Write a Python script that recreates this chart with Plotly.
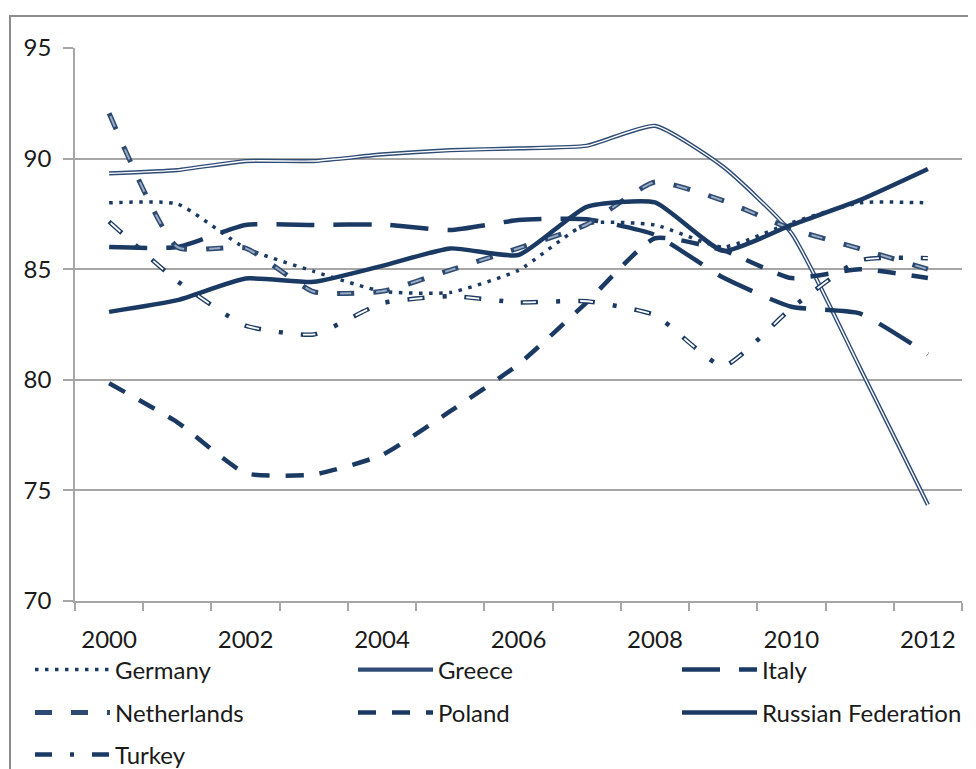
import plotly.graph_objects as go

years = list(range(2000, 2013))
tick_years = [2000, 2002, 2004, 2006, 2008, 2010, 2012]
y_ticks = [70, 75, 80, 85, 90, 95]

germany = [88.0, 87.95, 85.95, 84.9, 84.0, 83.95, 84.95, 87.05, 87.0, 86.0, 87.1, 88.0, 88.0]
greece = [89.33, 89.48, 89.89, 89.89, 90.19, 90.38, 90.46, 90.58, 91.48, 89.63, 86.63, 80.57, 74.35]
italy = [86.0, 86.0, 87.0, 87.0, 87.02, 86.77, 87.22, 87.26, 86.55, 84.62, 83.3, 83.0, 81.15]
netherlands = [92.05, 86.0, 85.95, 83.98, 84.0, 84.96, 85.95, 87.02, 88.94, 88.1, 86.82, 85.93, 85.0]
poland = [79.84, 78.08, 75.78, 75.72, 76.6, 78.58, 80.7, 83.5, 86.4, 85.85, 84.6, 85.0, 84.6]
russia = [83.07, 83.6, 84.58, 84.43, 85.15, 85.94, 85.64, 87.82, 88.02, 85.83, 87.0, 88.12, 89.53]
turkey = [87.15, 84.46, 82.45, 82.05, 83.46, 83.78, 83.5, 83.55, 82.92, 80.62, 83.24, 85.4, 85.5]

NAVY = "#1B3A63"
FONT = "Lato"
FSIZE = 24
SMOOTH = 0.5

# page body adds an 8px offset; figure coordinates are screen minus OFF
OFF = 8
W, H = 976, 769
PL, PR, PT, PB = 75, 962, 48, 601  # plot area in screen pixels
ML = PL - OFF
MT = PT - OFF
MR = W - (PR - OFF)
MB = H - (PB - OFF)
PW = PR - PL
PH = PB - PT


def px_x(sx):
    return (sx - PL) / PW


def px_y(sy):
    return (PB - sy) / PH


fig = go.Figure()


def add(name, y, color, width, dash, legend, showlegend=True):
    fig.add_trace(go.Scatter(
        x=years, y=y, name=name, mode="lines",
        line=dict(color=color, width=width, dash=dash, shape="spline", smoothing=SMOOTH),
        legend=legend, showlegend=showlegend, hoverinfo="skip"))


add("Germany", germany, NAVY, 3.5, "3.5px,6.5px", "legend")
add("Greece", greece, "#2E4C76", 4.2, "solid", "legend2")
add("Greece", greece, "#FFFFFF", 1.4, "solid", "legend2", False)
add("Italy", italy, NAVY, 4.5, "38px,19px", "legend3")
add("Netherlands", netherlands, "#2C4A72", 5, "17px,19px", "legend4")
add("Netherlands", netherlands, "#9AABC2", 2, "0px,3px,11px,22px", "legend4", False)
add("Poland", poland, NAVY, 4.5, "18px,16px", "legend5")
add("Russian Federation", russia, NAVY, 4.5, "solid", "legend6")
add("Turkey", turkey, NAVY, 4.5, "17px,18px,4px,18px", "legend7")
add("Turkey", turkey, "#FFFFFF", 1.8, "0px,2px,13px,42px", "legend7", False)

GRID = "#A6A6A6"
# legend item origins (screen px): sample starts ~5px right, text ~85px right
legend_pos = {
    "legend": (30, 670), "legend2": (353, 670), "legend3": (677, 670),
    "legend4": (30, 713), "legend5": (353, 713), "legend6": (677, 713),
    "legend7": (30, 755),
}
layout_legends = {}
for key, (lx, ly) in legend_pos.items():
    layout_legends[key] = dict(
        x=px_x(lx), y=px_y(ly), xanchor="left", yanchor="middle",
        orientation="h", itemwidth=75, bgcolor="rgba(0,0,0,0)",
        font=dict(family=FONT, size=FSIZE, color="#1a1a1a"))

fig.update_layout(
    width=W, height=H,
    margin=dict(l=ML, r=MR, t=MT, b=MB, autoexpand=False),
    paper_bgcolor="white", plot_bgcolor="white",
    font=dict(family=FONT, size=FSIZE, color="#1a1a1a"),
    xaxis=dict(
        range=[1999.5, 2012.5], tickmode="array", tickvals=tick_years,
        ticktext=[str(t) for t in tick_years], ticks="", showgrid=False,
        showline=True, linecolor=GRID, linewidth=1.5, zeroline=False,
        ticklabelstandoff=16, automargin=False,
        minor=dict(tickmode="linear", tick0=1999.5, dtick=1, ticks="outside",
                   ticklen=8, tickcolor=GRID, tickwidth=1.5, showgrid=False),
    ),
    yaxis=dict(
        range=[70, 95], tickmode="array", tickvals=y_ticks, ticks="outside",
        ticklen=10, tickcolor=GRID, tickwidth=1.5, showgrid=True,
        gridcolor=GRID, gridwidth=1.5, showline=True, linecolor=GRID,
        linewidth=1.5, zeroline=False, ticklabelstandoff=7, automargin=False,
    ),
    shapes=[dict(type="rect", xref="paper", yref="paper",
                 x0=px_x(10), x1=px_x(1000), y0=px_y(16), y1=px_y(800),
                 line=dict(color="#8C8C8C", width=2), fillcolor="rgba(0,0,0,0)",
                 layer="below")],
    **layout_legends,
)

fig.write_html("out.html")
